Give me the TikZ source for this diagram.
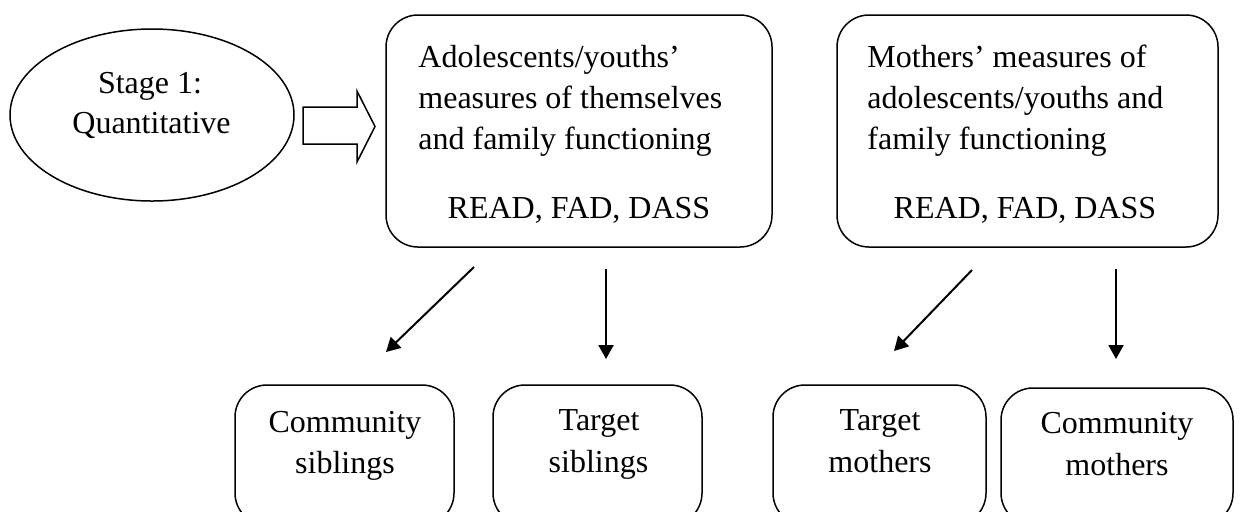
\documentclass[tikz,border=0pt]{standalone}
\usepackage{fontspec}
\setmainfont{Liberation Serif}
\usetikzlibrary{arrows.meta,shapes.geometric}
\begin{document}
\begin{tikzpicture}[x=0.5pt,y=-0.5pt,
  txt/.style={inner sep=0pt, font=\fontsize{16pt}{20.5pt}\selectfont},
  panel/.style={draw, line width=0.75pt, rounded corners=16pt, inner sep=0pt},
  arr/.style={draw, line width=1pt, -{Triangle[length=7pt,width=7.5pt]}},
]
\useasboundingbox (0,0) rectangle (1240,511);
\clip (0,0) rectangle (1240,511);

% stage label
\node[draw, ellipse, line width=0.75pt, minimum width=142pt, minimum height=86pt, inner sep=0pt] (stage) at (152,115) {};
\node[txt, anchor=base] (stageA) at (150,93) {Stage 1:};
\node[txt, anchor=base] (stageB) at (151.5,133) {Quantitative};

% hollow block arrow
\draw[line width=0.75pt] (303,107) -- (357,107) -- (357,91) -- (375,126.5)
  -- (357,162) -- (357,144) -- (303,144) -- cycle;

% measures panels
\node[panel, minimum width=193pt, minimum height=116pt] (youth) at (579,131) {};
\node[txt, anchor=base west] (y1) at (418,67) {Adolescents/youths’};
\node[txt, anchor=base west] (y2) at (418,108) {measures of themselves};
\node[txt, anchor=base west] (y3) at (418,149) {and family functioning};
\node[txt, anchor=base] (y4) at (579,218) {READ, FAD, DASS};

\node[panel, minimum width=190.5pt, minimum height=116pt] (moth) at (1027.5,131) {};
\node[txt, anchor=base west] (m1) at (867,67) {Mothers’ measures of};
\node[txt, anchor=base west] (m2) at (867,108) {adolescents/youths and};
\node[txt, anchor=base west] (m3) at (867,149) {family functioning};
\node[txt, anchor=base] (m4) at (1025,218) {READ, FAD, DASS};

% sample groups
\node[panel, minimum width=109.5pt, minimum height=70pt] (cs) at (344.5,455) {};
\node[txt, anchor=base] (cs1) at (345,432) {Community};
\node[txt, anchor=base] (cs2) at (345,473) {siblings};

\node[panel, minimum width=104.5pt, minimum height=70pt] (ts) at (597.5,455) {};
\node[txt, anchor=base] (ts1) at (599,430) {Target};
\node[txt, anchor=base] (ts2) at (598.5,472) {siblings};

\node[panel, minimum width=106.5pt, minimum height=70pt] (tm) at (879.5,455) {};
\node[txt, anchor=base] (tm1) at (880,430) {Target};
\node[txt, anchor=base] (tm2) at (880,472) {mothers};

\node[panel, minimum width=116pt, minimum height=68.5pt] (cm) at (1117,456.5) {};
\node[txt, anchor=base] (cm1) at (1117,433) {Community};
\node[txt, anchor=base] (cm2) at (1117,475) {mothers};

% connectors
\coordinate (ya) at (474,267);  \coordinate (yae) at (386,352);
\coordinate (yb) at (606,269);  \coordinate (ybe) at (606,359);
\coordinate (ma) at (972,270);  \coordinate (mae) at (894,351);
\coordinate (mb) at (1116,269); \coordinate (mbe) at (1116,359);
\draw[arr] (ya) -- (yae);
\draw[arr] (yb) -- (ybe);
\draw[arr] (ma) -- (mae);
\draw[arr] (mb) -- (mbe);
\end{tikzpicture}
\end{document}
